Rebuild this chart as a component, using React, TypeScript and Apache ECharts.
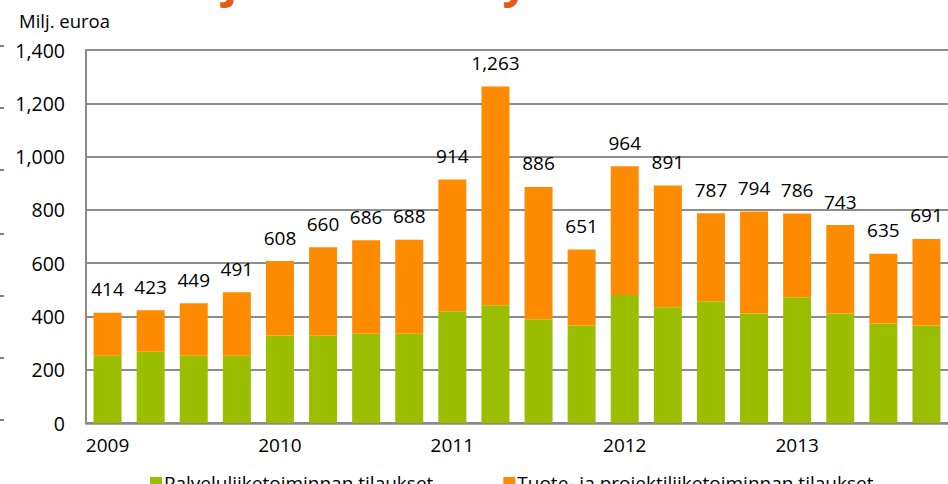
import React, { useEffect, useRef } from "react";
import * as echarts from "echarts";

const quarters = [
  "2009 Q1", "2009 Q2", "2009 Q3", "2009 Q4",
  "2010 Q1", "2010 Q2", "2010 Q3", "2010 Q4",
  "2011 Q1", "2011 Q2", "2011 Q3", "2011 Q4",
  "2012 Q1", "2012 Q2", "2012 Q3", "2012 Q4",
  "2013 Q1", "2013 Q2", "2013 Q3", "2013 Q4",
];
const totals = [414, 423, 449, 491, 608, 660, 686, 688, 914, 1263, 886, 651, 964, 891, 787, 794, 786, 743, 635, 691];
const services = [252, 267, 252, 252, 328, 328, 335, 335, 419, 442, 389, 366, 480, 434, 457, 411, 472, 411, 373, 366];
const products = totals.map((t, i) => t - services[i]);
const yTicks = [0, 200, 400, 600, 800, 1000, 1200, 1400];
const seriesNames = ["Palveluliiketoiminnan tilaukset", "Tuote- ja projektiliiketoiminnan tilaukset"];
const unitLabel = "Milj. euroa";
const titleText = "Tilaukset ja tilauskertymä";

const FONT = "'Open Sans', 'Noto Sans', sans-serif";
const fmt = (v: number) => v.toLocaleString("en-US");

export default function App() {
  const ref = useRef<HTMLDivElement>(null);
  useEffect(() => {
    if (!ref.current) return;
    const chart = echarts.init(ref.current, undefined, { renderer: "svg" });
    const tickYs = [46, 108, 170, 234, 296, 358, 420];
    chart.setOption({
      animation: false,
      textStyle: { fontFamily: FONT },
      graphic: [
        {
          type: "text",
          left: 0,
          top: -44,
          style: { text: titleText, font: `bold 46px ${FONT}`, fill: "#E35A1A" },
        },
        {
          type: "text",
          left: 19,
          top: 11,
          style: { text: unitLabel, font: `18.5px ${FONT}`, fill: "#000" },
        },
        ...tickYs.map((y) => ({
          type: "line",
          shape: { x1: 0, y1: y, x2: 4, y2: y },
          style: { stroke: "#555", lineWidth: 1.5 },
        })),
      ],
      grid: { left: 86, right: -10, top: 50, bottom: 61, containLabel: false },
      legend: {
        left: 145,
        top: 468,
        itemWidth: 12,
        itemHeight: 12,
        itemGap: 70,
        icon: "rect",
        textStyle: { fontSize: 19, color: "#000", fontFamily: FONT, lineHeight: 20, padding: [0, 0, 0, -3] },
        data: seriesNames,
      },
      xAxis: {
        type: "category",
        data: quarters,
        axisLine: { lineStyle: { color: "#8a8a8a", width: 2.5 } },
        axisTick: { show: false },
        axisLabel: {
          interval: 0,
          margin: 12,
          fontSize: 19,
          color: "#000",
          fontFamily: FONT,
          formatter: (v: string) => (v.endsWith("Q1") ? v.slice(0, 4) : ""),
        },
      },
      yAxis: {
        type: "value",
        min: yTicks[0],
        max: yTicks[yTicks.length - 1],
        interval: 200,
        axisLine: { show: true, lineStyle: { color: "#8a8a8a", width: 2 } },
        axisTick: { show: false },
        splitLine: { lineStyle: { color: "#8c8c8c", width: 2 } },
        axisLabel: { margin: 21, fontSize: 19.5, color: "#000", fontFamily: FONT, formatter: (v: number) => fmt(v) },
      },
      series: [
        {
          name: seriesNames[0],
          type: "bar",
          stack: "total",
          barWidth: 28,
          data: services,
          itemStyle: { color: "#9BBE00" },
        },
        {
          name: seriesNames[1],
          type: "bar",
          stack: "total",
          barWidth: 28,
          data: products,
          itemStyle: { color: "#FF8C00" },
          label: {
            show: true,
            position: "top",
            distance: 14,
            fontSize: 19,
            color: "#000",
            fontFamily: FONT,
            formatter: (p: any) => fmt(totals[p.dataIndex]),
          },
        },
      ],
    });
    return () => chart.dispose();
  }, []);
  return (
    <div
      ref={ref}
      style={{ position: "absolute", left: 0, top: 0, width: 948, height: 484, overflow: "hidden" }}
    />
  );
}
